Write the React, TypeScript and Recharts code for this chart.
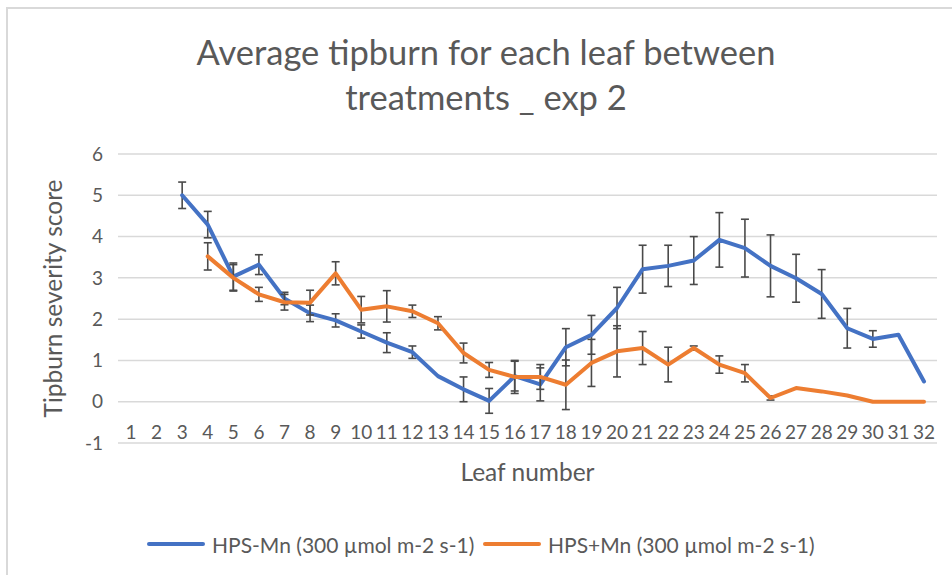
import React from 'react';
import { LineChart, Line, XAxis, YAxis, CartesianGrid, ErrorBar, Legend } from 'recharts';

const leaves = ['1','2','3','4','5','6','7','8','9','10','11','12','13','14','15','16','17','18','19','20','21','22','23','24','25','26','27','28','29','30','31','32'];
const hpsMinusMn = [null, null, 5.0, 4.29, 3.03, 3.32, 2.5, 2.14, 1.97, 1.7, 1.43, 1.2, 0.62, 0.3, 0.02, 0.62, 0.42, 1.32, 1.62, 2.27, 3.21, 3.29, 3.42, 3.92, 3.72, 3.29, 2.99, 2.61, 1.78, 1.52, 1.62, 0.49];
const hpsMinusMnErr = [null, null, 0.32, 0.32, 0.33, 0.24, 0.15, 0.2, 0.16, 0.16, 0.24, 0.15, null, 0.3, 0.3, 0.36, 0.4, 0.45, 0.47, 0.5, 0.58, 0.5, 0.58, 0.66, 0.7, 0.75, 0.58, 0.59, 0.48, 0.2, null, null];
const hpsPlusMn = [null, null, null, 3.52, 3.0, 2.6, 2.41, 2.4, 3.11, 2.23, 2.31, 2.19, 1.9, 1.18, 0.77, 0.6, 0.6, 0.41, 0.94, 1.22, 1.3, 0.9, 1.3, 0.9, 0.69, 0.09, 0.33, 0.25, 0.15, 0.0, 0.0, 0.0];
const hpsPlusMnErr = [null, null, null, 0.33, 0.32, 0.17, 0.19, 0.3, 0.28, 0.32, 0.38, 0.15, 0.16, 0.24, 0.18, 0.4, 0.3, 0.6, 0.57, 0.62, 0.4, 0.42, 0.05, 0.21, 0.21, 0.05, null, null, null, null, null, null];
const yTicks = [-1, 0, 1, 2, 3, 4, 5, 6];

const seriesNames = {
  minus: 'HPS-Mn (300 µmol m-2 s-1)',
  plus: 'HPS+Mn (300 µmol m-2 s-1)',
};
const titleLines = ['Average tipburn for each leaf between', 'treatments _ exp 2'];
const xTitle = 'Leaf number';
const yTitle = 'Tipburn severity score';

const data = leaves.map((leaf, i) => ({
  leaf,
  minus: hpsMinusMn[i],
  minusErr: hpsMinusMnErr[i],
  plus: hpsPlusMn[i],
  plusErr: hpsPlusMnErr[i],
}));

const FONT = 'Lato, "Open Sans", sans-serif';
const GRAY = '#595959';
const BLUE = '#4472C4';
const ORANGE = '#ED7D31';
const ERR = '#4a4a4a';

const XTick = (props: any) => {
  const { x, y, payload } = props;
  return (
    <text x={x} y={y - 4} textAnchor="middle" fill={GRAY} fontSize={19} fontFamily={FONT}>
      {payload.value}
    </text>
  );
};

const LegendContent = () => (
  <div style={{ position: 'relative', height: 24, width: 952, fontFamily: FONT, fontSize: 21, color: GRAY }}>
    <div style={{ position: 'absolute', left: 147, top: 0, height: 24, display: 'flex', alignItems: 'center', whiteSpace: 'nowrap' }}>
      <div style={{ width: 58, height: 4, background: BLUE, borderRadius: 2, marginRight: 7 }} />
      <span>{seriesNames.minus}</span>
    </div>
    <div style={{ position: 'absolute', left: 483, top: 0, height: 24, display: 'flex', alignItems: 'center', whiteSpace: 'nowrap' }}>
      <div style={{ width: 58, height: 4, background: ORANGE, borderRadius: 2, marginRight: 7 }} />
      <span>{seriesNames.plus}</span>
    </div>
  </div>
);

export default function App() {
  return (
    <div style={{ position: 'absolute', left: 0, top: 0, width: 952, height: 575, background: '#fff', overflow: 'hidden' }}>
      <div style={{ position: 'absolute', left: 6, top: 7, width: 960, height: 600, borderTop: '2px solid #d9d9d9', borderLeft: '2px solid #d9d9d9' }} />
      {titleLines.map((t, i) => (
        <div key={i} style={{ position: 'absolute', left: 0, width: 972, top: 31 + i * 45, textAlign: 'center', fontFamily: FONT, fontSize: 34.5, color: GRAY, lineHeight: '42px', whiteSpace: 'nowrap' }}>
          {t}
        </div>
      ))}
      <div style={{ position: 'absolute', left: 0, top: 0 }}>
        <LineChart width={952} height={575} data={data} margin={{ top: 154, right: 15, bottom: 78, left: 0 }}>
          <CartesianGrid vertical={false} stroke="#d9d9d9" strokeWidth={1.5} />
          <XAxis
            dataKey="leaf"
            interval={0}
            tickLine={false}
            axisLine={false}
            tickSize={0}
            tickMargin={0}
            height={30}
            padding={{ left: 13, right: 13 }}
            tick={<XTick />}
            label={{ value: xTitle, position: 'bottom', offset: -9, fill: GRAY, fontSize: 24.5, fontFamily: FONT }}
          />
          <YAxis
            domain={[-1, 6]}
            ticks={yTicks}
            interval={0}
            width={118}
            tickLine={false}
            axisLine={false}
            tickSize={0}
            tickMargin={15}
            tick={{ fill: GRAY, fontSize: 19, fontFamily: FONT }}
            label={{ value: yTitle, angle: -90, position: 'insideLeft', offset: 53, fill: GRAY, fontSize: 24.5, fontFamily: FONT, style: { textAnchor: 'middle' } }}
          />
          <Legend verticalAlign="bottom" content={<LegendContent />} wrapperStyle={{ position: 'absolute', top: 532, left: 0, width: 952, height: 24 }} />
          <Line
            type="linear"
            dataKey="minus"
            name={seriesNames.minus}
            stroke={BLUE}
            strokeWidth={4}
            strokeLinejoin="round"
            strokeLinecap="round"
            dot={false}
            activeDot={false}
            isAnimationActive={false}
          >
            <ErrorBar dataKey="minusErr" direction="y" width={4} stroke={ERR} strokeWidth={1.6} isAnimationActive={false} />
          </Line>
          <Line
            type="linear"
            dataKey="plus"
            name={seriesNames.plus}
            stroke={ORANGE}
            strokeWidth={4}
            strokeLinejoin="round"
            strokeLinecap="round"
            dot={false}
            activeDot={false}
            isAnimationActive={false}
          >
            <ErrorBar dataKey="plusErr" direction="y" width={4} stroke={ERR} strokeWidth={1.6} isAnimationActive={false} />
          </Line>
        </LineChart>
      </div>
    </div>
  );
}
